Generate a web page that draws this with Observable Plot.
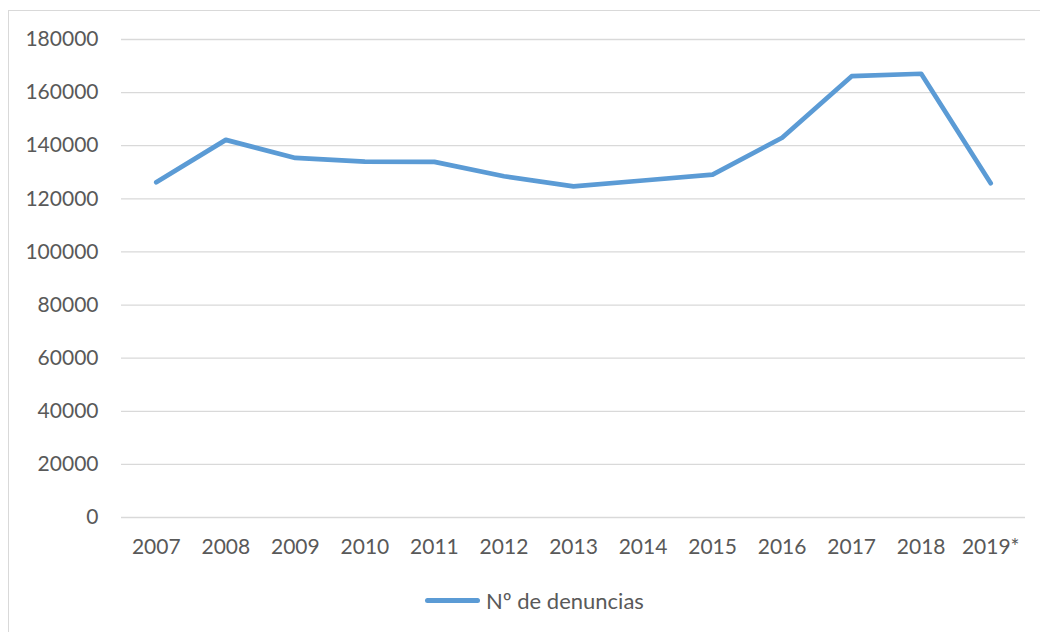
<!DOCTYPE html>
<html>
<head>
<meta charset="utf-8">
<script src="https://cdn.jsdelivr.net/npm/d3@7"></script>
<script src="https://cdn.jsdelivr.net/npm/@observablehq/plot@0.6"></script>
<style>
  html, body { margin: 0; padding: 0; background: #fff; overflow: hidden; }
  body { width: 1040px; height: 632px; position: relative; font-family: Lato, "Open Sans", sans-serif; }
  #frame { position: absolute; left: 8px; top: 10px; width: 1100px; height: 700px; border: 1px solid #d9d9d9; box-sizing: border-box; }
  #chart { position: absolute; left: 0; top: 0; }
  #legend { position: absolute; left: 425px; top: 586px; height: 28px; display: flex; align-items: center; color: #595959; font-size: 22px; }
  #legend .sw { width: 55px; height: 5px; background: #5B9BD5; border-radius: 3px; margin-right: 6px; }
</style>
</head>
<body>
<div id="frame"></div>
<div id="chart"></div>
<div id="legend"><span class="sw"></span><span>Nº de denuncias</span></div>
<script>
const years = ["2007","2008","2009","2010","2011","2012","2013","2014","2015","2016","2017","2018","2019*"];
const denuncias = [126200,142200,135400,134000,133900,128500,124700,126900,129100,143000,166200,167100,125900];
const yTicks = [0,20000,40000,60000,80000,100000,120000,140000,160000,180000];

const data = years.map((y, i) => ({year: y, value: denuncias[i]}));

const chart = Plot.plot({
  width: 1040,
  height: 575,
  marginLeft: 121,
  marginRight: 15,
  marginTop: 39,
  marginBottom: 58,
  style: {fontFamily: "Lato, 'Open Sans', sans-serif", fontSize: "21px", color: "#595959", background: "transparent"},
  x: {type: "point", domain: years, padding: 0.5, round: false, label: null},
  y: {domain: [0, 180000], ticks: yTicks, label: null},
  marks: [
    Plot.gridY(yTicks, {stroke: "#d9d9d9", strokeOpacity: 1, strokeWidth: 1.3}),
    Plot.axisY(yTicks, {tickSize: 0, tickPadding: 23, tickFormat: d => String(d), fill: "#595959", label: null}),
    Plot.axisX(years, {tickSize: 0, tickPadding: 22, fill: "#595959", label: null}),
    Plot.line(data, {x: "year", y: "value", stroke: "#5B9BD5", strokeWidth: 4.7, strokeLinecap: "round", strokeLinejoin: "round"})
  ]
});
document.getElementById("chart").appendChild(chart);
</script>
</body>
</html>
